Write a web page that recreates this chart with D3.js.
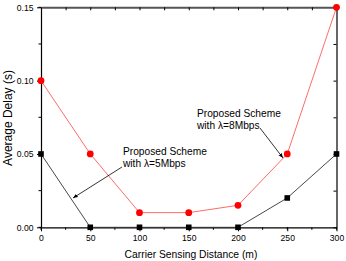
<!DOCTYPE html>
<html>
<head>
<meta charset="utf-8">
<script src="https://cdn.jsdelivr.net/npm/d3@7"></script>
<style>
  body { margin: 0; background: #fff; }
  text { font-family: "Liberation Sans", Arial, sans-serif; fill: #000; }
</style>
</head>
<body>
<svg id="chart" width="346" height="261"></svg>
<script>
const distances = [0, 50, 100, 150, 200, 250, 300];
const delay8 = [0.10, 0.05, 0.01, 0.01, 0.015, 0.05, 0.15];
const delay5 = [0.05, 0.0, 0.0, 0.0, 0.0, 0.02, 0.05];
const xTicks = [0, 50, 100, 150, 200, 250, 300];
const yTicks = [0.00, 0.05, 0.10, 0.15];

const svg = d3.select("#chart");
const pLeft = 41, pRight = 336.5, pTop = 7.3, pBottom = 227.3;

const x = d3.scaleLinear().domain([0, 300]).range([pLeft, pRight]);
const y = d3.scaleLinear().domain([0, 0.15]).range([pBottom, pTop]);

const xMinor = d3.range(0, 301, 25);
const yMinor = d3.range(0, 0.1501, 0.025);

// bottom axis
const gx = svg.append("g").attr("transform", `translate(0,${pBottom})`)
  .call(d3.axisBottom(x).tickValues(xTicks).tickFormat(d3.format("d"))
    .tickSize(4).tickPadding(4).tickSizeOuter(0));
gx.append("g").selectAll("line").data(xMinor).enter().append("line")
  .attr("x1", d => x(d)).attr("x2", d => x(d)).attr("y1", 0).attr("y2", 2.5)
  .attr("stroke", "#000");

// left axis
const gy = svg.append("g").attr("transform", `translate(${pLeft},0)`)
  .call(d3.axisLeft(y).tickValues(yTicks).tickFormat(d3.format(".2f"))
    .tickSize(4).tickPadding(3.5).tickSizeOuter(0));
gy.append("g").selectAll("line").data(yMinor).enter().append("line")
  .attr("y1", d => y(d)).attr("y2", d => y(d)).attr("x1", 0).attr("x2", -2.5)
  .attr("stroke", "#000");

[gx, gy].forEach(g => {
  g.selectAll("text").style("font-size", "8.6px").style("font-family", "Liberation Sans, Arial, sans-serif");
  g.select(".domain").attr("stroke", "#000").attr("stroke-width", 1.2);
});

// top and right axes (mirrored, inward ticks)
const gt = svg.append("g").attr("transform", `translate(0,${pTop})`)
  .call(d3.axisTop(x).tickValues(xMinor).tickFormat("").tickSize(-3).tickSizeOuter(0));
gt.select(".domain").attr("stroke", "#555").attr("stroke-width", 2);
const gr = svg.append("g").attr("transform", `translate(${pRight},0)`)
  .call(d3.axisRight(y).tickValues(yMinor).tickFormat("").tickSize(-3).tickSizeOuter(0));
gr.select(".domain").attr("stroke", "#000").attr("stroke-width", 1.2);

// axis titles
svg.append("text").attr("x", 191).attr("y", 258)
  .attr("text-anchor", "middle").style("font-size", "10.3px").text("Carrier Sensing Distance (m)");
svg.append("text").attr("transform", "translate(12,118) rotate(-90)")
  .attr("text-anchor", "middle").style("font-size", "12px").text("Average Delay (s)");

const line = d3.line().x(d => x(d[0])).y(d => y(d[1]));
const pts8 = distances.map((d, i) => [d, delay8[i]]);
const pts5 = distances.map((d, i) => [d, delay5[i]]);

svg.append("path").datum(pts5).attr("d", line).attr("fill", "none")
  .attr("stroke", "#333").attr("stroke-width", 0.9);
svg.append("g").selectAll("rect").data(pts5).enter().append("rect")
  .attr("x", d => x(d[0]) - 2.8).attr("y", d => y(d[1]) - 2.8)
  .attr("width", 5.6).attr("height", 5.6).attr("fill", "#000");

svg.append("path").datum(pts8).attr("d", line).attr("fill", "none")
  .attr("stroke", "#ff5a5a").attr("stroke-width", 0.9);
svg.append("g").selectAll("circle").data(pts8).enter().append("circle")
  .attr("cx", d => x(d[0])).attr("cy", d => y(d[1])).attr("r", 3.4)
  .attr("fill", "#ff0000");

// annotations
svg.append("defs").append("marker").attr("id", "arr")
  .attr("viewBox", "0 0 10 10").attr("refX", 10).attr("refY", 5)
  .attr("markerWidth", 6).attr("markerHeight", 6).attr("orient", "auto")
  .append("path").attr("d", "M0,1 L10,5 L0,9 Z").attr("fill", "#000");

function note(lines, tx, ty, ax1, ay1, ax2, ay2) {
  lines.forEach((s, i) => {
    svg.append("text").attr("x", tx).attr("y", ty + i * 12.3)
      .style("font-size", "10.2px").text(s);
  });
  svg.append("line").attr("x1", ax1).attr("y1", ay1).attr("x2", ax2).attr("y2", ay2)
    .attr("stroke", "#000").attr("stroke-width", 0.8).attr("marker-end", "url(#arr)");
}
note(["Proposed Scheme", "with \u03bb=8Mbps"], 197, 116.7, 260, 128, 283, 158);
note(["Proposed Scheme", "with \u03bb=5Mbps"], 123, 155, 122, 167, 73, 198);
</script>
</body>
</html>
